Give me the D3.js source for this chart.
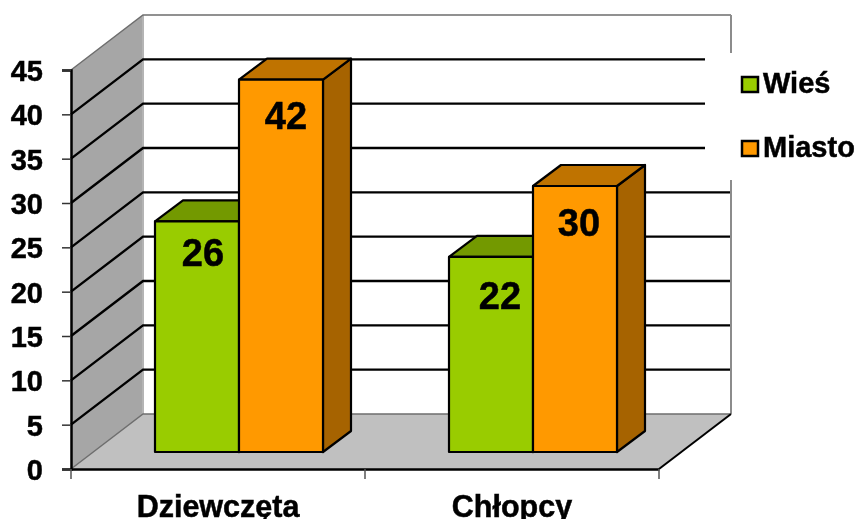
<!DOCTYPE html>
<html>
<head>
<meta charset="utf-8">
<script src="https://cdn.jsdelivr.net/npm/d3@7"></script>
<style>
  html, body { margin: 0; padding: 0; background: #fff; }
  /* the reference is a soft, upscaled picture with heavy type */
  svg { filter: blur(0.4px); }
  text { font-family: "Liberation Sans", Arial, sans-serif; font-weight: bold; fill: #000; stroke: #000; stroke-width: 0.5px; }
</style>
</head>
<body>
<div id="chart"></div>
<script>
const categories = ["Dziewczęta", "Chłopcy"];
const seriesNames = ["Wieś", "Miasto"];
const wies = [26, 22];
const miasto = [42, 30];
const yTicks = [0, 5, 10, 15, 20, 25, 30, 35, 40, 45];

// front, top and side colours per series
const frontColors = ["#99cc00", "#ff9900"];
const topColors = ["#739900", "#bf7300"];
const sideColors = ["#5c7a00", "#a66300"];

// hand placed value labels in the original, offset from bar centre / bar top
const labelNudge = [[[6, 45], [5, 49]], [[9, 52], [4, 50]]];

const width = 856;
const height = 519;

// Oblique 3D box: the wall goes back by depth, the bars sit inside it
const depth = { x: 72, y: 55 };
const barInset = { x: 21, y: 17 };
const barSide = { x: 28, y: 21 };

const svg = d3
  .select("#chart")
  .append("svg")
  .attr("width", width)
  .attr("height", height)
  .style("display", "block");

// Set up scales
const x0 = d3.scaleBand().domain(categories).range([71, 659]);
const x1 = d3
  .scaleBand()
  .domain(seriesNames)
  .range([0, x0.bandwidth()])
  .paddingInner(0)
  .paddingOuter(0.75);
const y = d3.scaleLinear().domain([0, 45]).range([469, 70]);

// Side wall, back wall and floor
const poly = (pts) => pts.map((p) => p.join(",")).join(" ");
const left = x0.range()[0];
const right = x0.range()[1];

svg
  .append("polygon")
  .attr("points", poly([
    [left, y(0)],
    [left, y(45)],
    [left + depth.x, y(45) - depth.y],
    [left + depth.x, y(0) - depth.y],
  ]))
  .attr("fill", "#a6a6a6");

svg
  .append("polygon")
  .attr("points", poly([
    [left, y(0)],
    [left + depth.x, y(0) - depth.y],
    [right + depth.x, y(0) - depth.y],
    [right, y(0)],
  ]))
  .attr("fill", "#c0c0c0");

svg
  .append("line")
  .attr("x1", left + depth.x)
  .attr("x2", left + depth.x)
  .attr("y1", y(45) - depth.y)
  .attr("y2", y(0) - depth.y)
  .attr("stroke", "#b4b4b4")
  .attr("stroke-width", 2);

// Gridlines run back along the side wall and across the back wall
const grid = svg.append("g");
yTicks.forEach((t) => {
  const edge = t === 0 || t === 45;
  grid
    .append("polyline")
    .attr("points", poly([
      [left, y(t)],
      [left + depth.x, y(t) - depth.y],
      [right + depth.x, y(t) - depth.y],
    ]))
    .attr("fill", "none")
    .attr("stroke", edge ? "#6e6e6e" : "#000")
    .attr("stroke-width", edge ? 1.5 : 2.4);
});

// Right edge of the back wall and front edge of the floor
svg
  .append("line")
  .attr("x1", right + depth.x)
  .attr("x2", right + depth.x)
  .attr("y1", y(45) - depth.y)
  .attr("y2", y(0) - depth.y)
  .attr("stroke", "#8c8c8c")
  .attr("stroke-width", 2);

svg
  .append("line")
  .attr("x1", right)
  .attr("x2", right + depth.x)
  .attr("y1", y(0))
  .attr("y2", y(0) - depth.y)
  .attr("stroke", "#000")
  .attr("stroke-width", 2);

// Add Y axis
svg
  .append("g")
  .attr("transform", `translate(${left},0)`)
  .call(d3.axisLeft(y).tickValues(yTicks).tickSize(9).tickPadding(19))
  .call((g) => {
    g.select(".domain").attr("stroke", "#000").attr("stroke-width", 2.5);
    g.selectAll("line").attr("stroke", "#333").attr("stroke-width", 1.5);
    g.selectAll("text").attr("font-size", 29).attr("font-family", null).attr("dy", "0.36em");
  });

// Add X axis
svg
  .append("g")
  .attr("transform", `translate(0,${y(0)})`)
  .call(d3.axisBottom(x0).tickSize(0).tickPadding(0))
  .call((g) => {
    g.select(".domain").attr("stroke", "#000").attr("stroke-width", 2.5);
    g.selectAll(".tick text")
      .attr("font-size", 30.5)
      .attr("font-family", null)
      .attr("y", 48)
      .attr("dy", 0);
    g.selectAll(".tick line").remove();
  });

// The tick marks sit on the band edges, not on the band centres
svg
  .append("g")
  .selectAll("line")
  .data([left, x0(categories[1]), right])
  .join("line")
  .attr("x1", (d) => d)
  .attr("x2", (d) => d)
  .attr("y1", y(0))
  .attr("y2", y(0) + 10)
  .attr("stroke", "#555")
  .attr("stroke-width", 1.5);

// Add the bars
const seriesValues = [wies, miasto];
const barsGroup = svg.append("g");
categories.forEach((cat, c) => {
  seriesNames.forEach((name, s) => {
    const v = seriesValues[s][c];
    const bx = x0(cat) + x1(name) + barInset.x;
    const bw = x1.bandwidth();
    const by = y(v) - barInset.y;
    const base = y(0) - barInset.y;
    const bar = barsGroup.append("g").attr("stroke", "#000").attr("stroke-width", 2.2).attr("stroke-linejoin", "round");

    // side
    bar
      .append("polygon")
      .attr("points", poly([
        [bx + bw, by],
        [bx + bw + barSide.x, by - barSide.y],
        [bx + bw + barSide.x, base - barSide.y],
        [bx + bw, base],
      ]))
      .attr("fill", sideColors[s]);

    // top
    bar
      .append("polygon")
      .attr("points", poly([
        [bx, by],
        [bx + barSide.x, by - barSide.y],
        [bx + bw + barSide.x, by - barSide.y],
        [bx + bw, by],
      ]))
      .attr("fill", topColors[s]);

    // front
    bar
      .append("rect")
      .attr("x", bx)
      .attr("y", by)
      .attr("width", bw)
      .attr("height", base - by)
      .attr("fill", frontColors[s]);
  });
});

// Add value labels after all bars so nothing covers them
categories.forEach((cat, c) => {
  seriesNames.forEach((name, s) => {
    const v = seriesValues[s][c];
    const nudge = labelNudge[c][s];
    svg
      .append("text")
      .attr("x", x0(cat) + x1(name) + barInset.x + x1.bandwidth() / 2 + nudge[0])
      .attr("y", y(v) - barInset.y + nudge[1])
      .attr("text-anchor", "middle")
      .attr("font-size", 38)
      .text(v);
  });
});

// Legend has a white box that hides the gridlines behind it
svg
  .append("rect")
  .attr("x", 705)
  .attr("y", 53)
  .attr("width", width - 705)
  .attr("height", 127)
  .attr("fill", "#fff");

const legend = svg
  .append("g")
  .selectAll("g")
  .data(seriesNames)
  .join("g")
  .attr("transform", (d, i) => `translate(741,${76 + i * 64})`);

legend
  .append("rect")
  .attr("x", 1)
  .attr("y", 1)
  .attr("width", 16)
  .attr("height", 15)
  .attr("fill", (d, i) => frontColors[i])
  .attr("stroke", "#000")
  .attr("stroke-width", 2.5);

legend
  .append("text")
  .attr("x", 22)
  .attr("y", 17)
  .attr("font-size", 29)
  .text((d) => d);
</script>
</body>
</html>
